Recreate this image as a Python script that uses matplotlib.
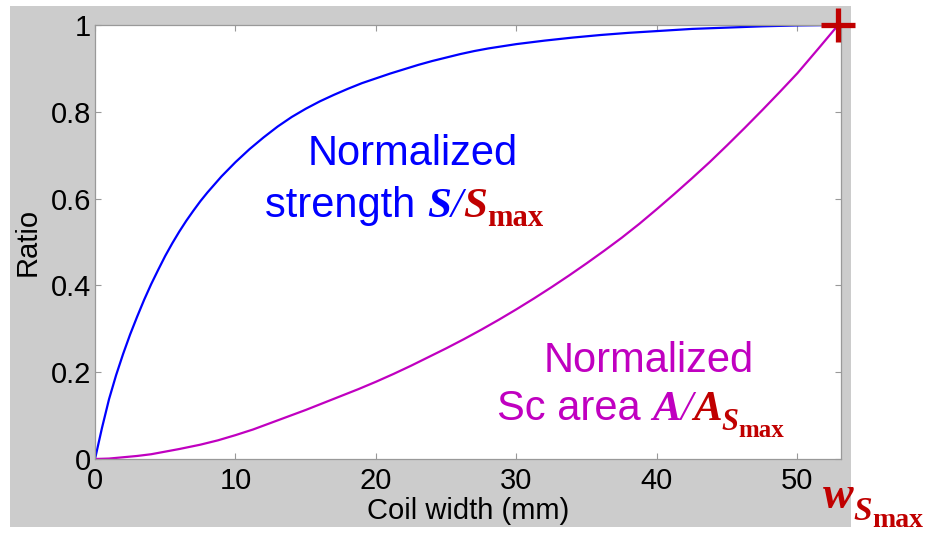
"""
Normalized strength and superconductor area versus coil width.
"""

import matplotlib
matplotlib.use("Agg")
import matplotlib.pyplot as plt
from matplotlib.patches import Rectangle
from matplotlib.transforms import IdentityTransform

# values
coil_width_s = [0, 0.5, 1, 1.5, 2, 2.5, 3, 3.5, 4, 4.5, 5, 5.5, 6, 6.5, 7, 7.5,
                8, 9, 10, 11, 12, 13, 14, 15, 16, 17, 18, 19, 20, 21, 22, 23,
                24, 25, 26, 27, 28, 30, 32, 34, 36, 38, 40, 42.5, 45, 47.5, 50,
                52.9]
strength_ratio = [0, 0.072, 0.138, 0.193, 0.242, 0.287, 0.328, 0.367, 0.403,
                  0.436, 0.468, 0.497, 0.524, 0.549, 0.572, 0.594, 0.614, 0.651,
                  0.684, 0.714, 0.741, 0.766, 0.788, 0.807, 0.824, 0.839, 0.853,
                  0.866, 0.877, 0.888, 0.898, 0.908, 0.917, 0.925, 0.933, 0.940,
                  0.946, 0.956, 0.964, 0.971, 0.977, 0.982, 0.986, 0.991, 0.994,
                  0.997, 0.999, 1.0]

coil_width_a = [0, 1, 2, 3, 4, 5, 6, 7.5, 8.75, 10, 11.25, 12.5, 13.75, 15,
                16.25, 17.5, 18.75, 20, 21.25, 22.5, 23.75, 25, 26.25, 27.5,
                28.75, 30, 31.25, 32.5, 33.75, 35, 36.25, 37.5, 38.75, 40,
                41.25, 42.5, 43.75, 45, 46.25, 47.5, 48.75, 50, 51.5, 52.9]
area_ratio = [0, 0.001, 0.004, 0.007, 0.011, 0.017, 0.023, 0.033, 0.043, 0.055,
              0.068, 0.083, 0.098, 0.113, 0.129, 0.145, 0.161, 0.178, 0.196,
              0.215, 0.235, 0.255, 0.276, 0.298, 0.321, 0.345, 0.370, 0.396,
              0.423, 0.451, 0.480, 0.510, 0.542, 0.576, 0.611, 0.647, 0.684,
              0.723, 0.763, 0.804, 0.846, 0.889, 0.946, 1.0]

w_smax = 52.9
x_ticks = [0, 10, 20, 30, 40, 50]
y_ticks = [0, 0.2, 0.4, 0.6, 0.8, 1.0]
y_tick_labels = ["0", "0.2", "0.4", "0.6", "0.8", "1"]

BLUE = "#0000ff"
MAGENTA = "#c000c0"
DARK_RED = "#c00000"
SANS = "Liberation Sans"
SERIF = "Liberation Serif"

W, H = 943, 533
fig = plt.figure(figsize=(W / 100, H / 100), dpi=100, facecolor="white")

# grey panel behind the axes (MATLAB-like figure colour)
fig.add_artist(Rectangle((10 / W, 6 / H), 841 / W, 521 / H,
                         transform=fig.transFigure, facecolor="#cccccc",
                         edgecolor="none", zorder=0))

ax = fig.add_axes([95 / W, (H - 459) / H, (841 - 95) / W, (459 - 25) / H])
ax.set_facecolor("white")

ax.plot(coil_width_s, strength_ratio, color=BLUE, linewidth=1.6)
ax.plot(coil_width_a, area_ratio, color=MAGENTA, linewidth=1.6)
ax.plot([w_smax], [1.0], marker="+", markersize=24, markeredgewidth=3.8,
        color=DARK_RED, clip_on=False, zorder=10)

ax.set_xlim(0, 53.1)
ax.set_ylim(0, 1)
ax.set_xticks(x_ticks)
ax.set_yticks(y_ticks)
ax.set_yticklabels(y_tick_labels)
ax.tick_params(direction="in", length=4, width=0.8, color="#999999",
               top=True, right=True, labelsize=21)
ax.tick_params(axis="x", pad=6)
ax.tick_params(axis="y", pad=3)
for lab in ax.get_xticklabels() + ax.get_yticklabels():
    lab.set_family(SANS)
for spine in ax.spines.values():
    spine.set_color("#999999")
    spine.set_linewidth(0.9)

ax.set_xlabel("Coil width (mm)", fontsize=21, family=SANS, labelpad=1)
ax.set_ylabel("Ratio", fontsize=21, family=SANS, labelpad=6)

renderer = fig.canvas.get_renderer()


def put(x, y, s, **kw):
    """Place text at reference pixel position (x, baseline y from top)."""
    return fig.text(x, H - y, s, transform=IdentityTransform(),
                    va="baseline", **kw)


def chain(x, pieces):
    """Write pieces one after another, starting at pixel x."""
    for s, y, kw in pieces:
        t = put(x, y, s, ha="left", **kw)
        x = t.get_window_extent(renderer).x1


bold_it = dict(family=SERIF, style="italic", weight="bold")
bold = dict(family=SERIF, weight="bold")

# strength label
put(413, 165, "Normalized", ha="center", family=SANS, fontsize=30, color=BLUE)
chain(265, [
    ("strength ", 217, dict(family=SANS, fontsize=30, color=BLUE)),
    ("S", 217, dict(fontsize=31, color=BLUE, **bold_it)),
    ("/", 217, dict(family=SERIF, style="italic", fontsize=31, color=BLUE)),
    ("S", 217, dict(fontsize=31, color=DARK_RED, **bold_it)),
    ("max", 226, dict(fontsize=22, color=DARK_RED, **bold)),
])

# area label
put(649, 372, "Normalized", ha="center", family=SANS, fontsize=30, color=MAGENTA)
chain(497, [
    ("Sc area ", 420, dict(family=SANS, fontsize=30, color=MAGENTA)),
    ("A", 420, dict(fontsize=31, color=MAGENTA, **bold_it)),
    ("/", 420, dict(family=SERIF, style="italic", fontsize=31, color=MAGENTA)),
    ("A", 420, dict(fontsize=31, color=DARK_RED, **bold_it)),
    ("S", 430, dict(fontsize=22, color=DARK_RED, **bold_it)),
    ("max", 437, dict(fontsize=18, color=DARK_RED, **bold)),
])

# w_Smax marker label
chain(823, [
    ("w", 508, dict(fontsize=33, color=DARK_RED, **bold_it)),
    ("S", 520, dict(fontsize=24, color=DARK_RED, **bold_it)),
    ("max", 527, dict(fontsize=20, color=DARK_RED, **bold)),
])

fig.savefig("out.png", dpi=100, facecolor="white")
